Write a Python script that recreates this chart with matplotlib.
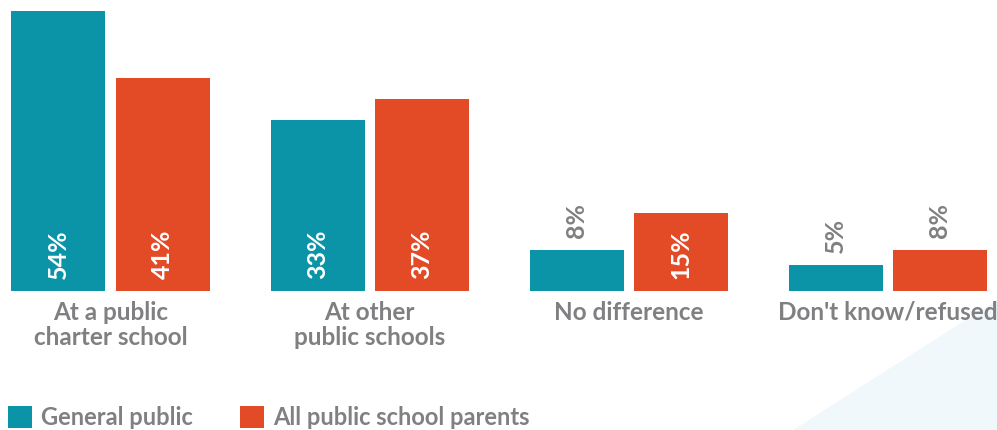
import matplotlib
matplotlib.use("Agg")
import matplotlib.pyplot as plt
from matplotlib.patches import Patch, Polygon
import numpy as np

categories = ["At a public\ncharter school", "At other\npublic schools", "No difference", "Don't know/refused"]
series_names = ["General public", "All public school parents"]
general_public = [54, 33, 8, 5]
school_parents = [41, 37, 15, 8]

TEAL = "#0b94a8"
RED = "#e34a26"
GRAY = "#808083"
FONT = ["Lato", "DejaVu Sans"]

fig = plt.figure(figsize=(9.97, 4.30), dpi=100)

# decorative light triangle at bottom-right
fig.patches.append(Polygon([(793/997, 0), (1, 0), (1, 130/430)], closed=True,
                           transform=fig.transFigure, facecolor="#f1f8fb", edgecolor="none", zorder=-5))

ax = fig.add_axes([0, (430-291)/430, 1, 291/430])
ax.set_zorder(2)
ax.patch.set_alpha(0)
px = 280/54
ax.set_ylim(0, 291/px)
ax.set_xlim(-110.5/259, (997-110.5)/259)

x = np.arange(len(categories))
w = 94/259
off = 52/259
b1 = ax.bar(x - off, general_public, width=w, color=TEAL)
b2 = ax.bar(x + off, school_parents, width=w, color=RED)

for bars, vals in ((b1, general_public), (b2, school_parents)):
    for rect, v in zip(bars, vals):
        cx = rect.get_x() + rect.get_width()/2
        if v >= 12:
            ax.annotate(f"{v}%", (cx, 0), xytext=(0, 8.5), textcoords="offset points",
                        rotation=90, ha="center", va="bottom", color="white",
                        fontsize=18, fontweight="bold", family=FONT)
        else:
            ax.annotate(f"{v}%", (cx, v), xytext=(0, 8.5), textcoords="offset points",
                        rotation=90, ha="center", va="bottom", color=GRAY,
                        fontsize=18, fontweight="bold", family=FONT)

ax.set_xticks(x)
ax.set_xticklabels(categories, color=GRAY, fontsize=17.5, fontweight="bold", family=FONT, linespacing=1.1)
ax.tick_params(axis="x", length=0, pad=7)
ax.set_yticks([])
for s in ax.spines.values():
    s.set_visible(False)

handles = [Patch(facecolor=TEAL, edgecolor="none"), Patch(facecolor=RED, edgecolor="none")]
leg = fig.legend(handles, series_names, loc="lower left", bbox_to_anchor=(8/997, 1/430),
                 ncol=2, frameon=False, borderpad=0, borderaxespad=0,
                 handlelength=1.0, handleheight=1.1, handletextpad=0.4, columnspacing=2.0,
                 prop={"family": FONT, "size": 17, "weight": "bold"})
for t in leg.get_texts():
    t.set_color(GRAY)

fig.savefig("out.png", dpi=100)
